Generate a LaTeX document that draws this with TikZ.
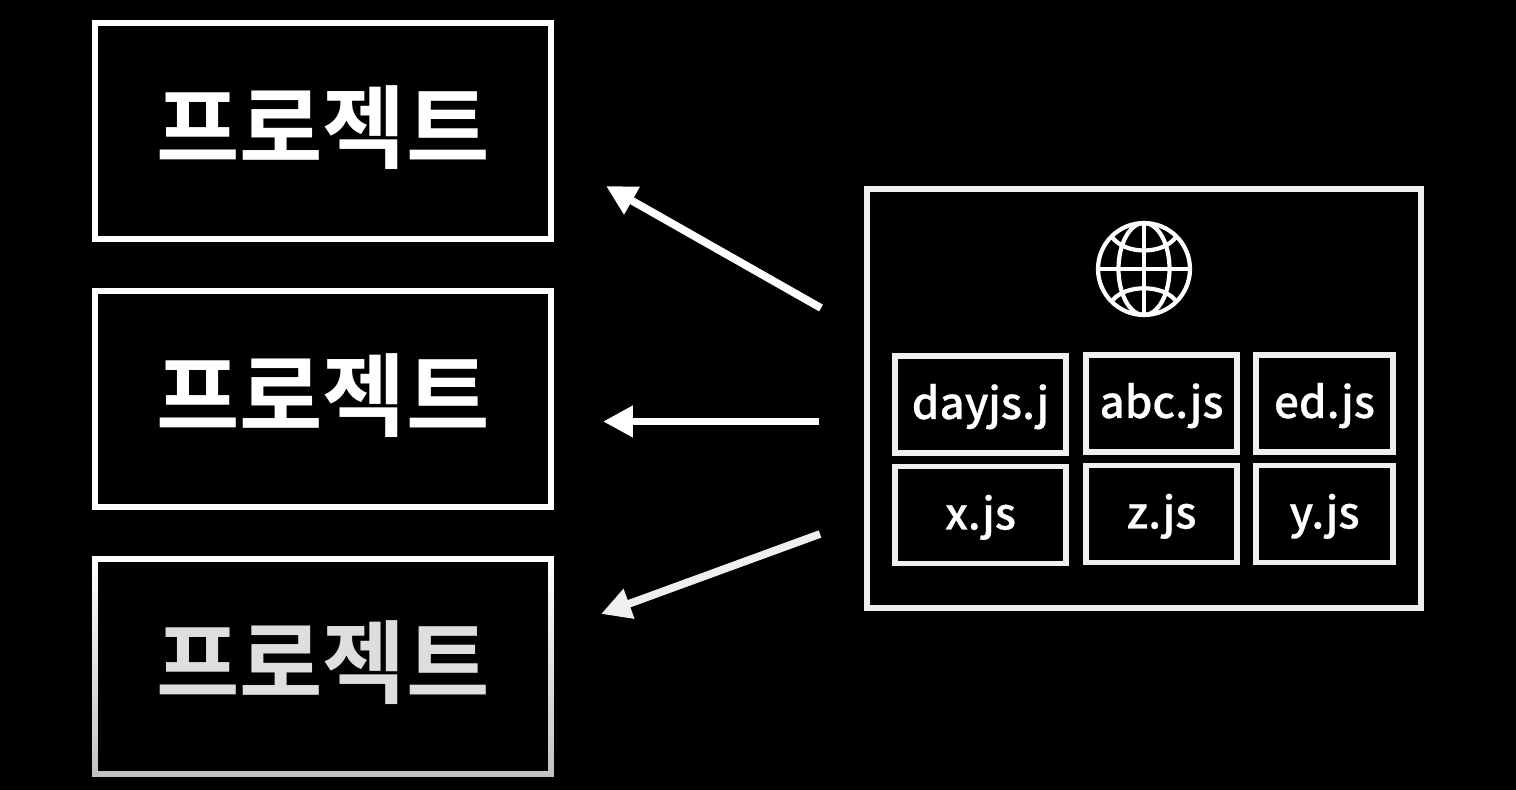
\documentclass[tikz,border=0pt]{standalone}
\usepackage{fontspec}
\setmainfont[FakeBold=0.5]{Noto Sans CJK KR Medium}
\newfontfamily\krbold{Noto Sans CJK KR Bold}
\definecolor{bg}{HTML}{000000}
\definecolor{line}{HTML}{FFFFFF}
\definecolor{linelt}{HTML}{EFEFEF}
\definecolor{txtlow}{HTML}{DEDEDE}
\usetikzlibrary{arrows.meta,positioning}

\begin{document}
\begin{tikzpicture}[x=0.02cm,y=-0.02cm,
    pj/.style={draw=line,line width=3.4pt,
      minimum width=9.12cm,minimum height=4.32cm,inner sep=0pt,
      text height=1.22cm,text depth=0pt,
      text=line,font=\krbold\fontsize{51.6}{52}\selectfont},
    pjlow/.style={pj,draw=none,top color=white,bottom color=black!24,
      minimum width=9.24cm,minimum height=4.42cm,text=txtlow,
      path picture={\fill[bg]([shift={(6,6)}]path picture bounding box.north west)
        rectangle ([shift={(-6,-6)}]path picture bounding box.south east);}},
    lib/.style={draw=linelt,line width=3.4pt,
      minimum width=11.08cm,minimum height=8.38cm},
    fa/.style={draw=linelt,line width=3.4pt,minimum height=1.94cm,inner sep=0pt,
      text height=.58cm,text depth=0pt,text=line,font=\fontsize{25}{30}\selectfont},
    gl/.style={draw=line,line width=2.4pt},
    ar/.style={-{Triangle[length=17pt,width=17pt]},line,line width=4.4pt},
  ]
    \fill[bg](0,0) rectangle (1516,790);
    \node[pj](p1) at (323,131) {프로젝트};
    \node[pj](p2) at (323,399) {프로젝트};
    \node[pjlow](p3) at (323,666.5) {프로젝트};
    \node[lib](mod) at (1144,398.5) {};
    \node[fa,minimum width=3.42cm](f1) at (980.5,404.5) {dayjs.j};
    \node[fa,minimum width=3.02cm](f2) at (1161.5,403.5) {abc.js};
    \node[fa,minimum width=2.74cm](f3) at (1324.5,403.5) {ed.js};
    \node[fa,minimum width=3.42cm](f4) at (980.5,515) {x.js};
    \node[fa,minimum width=3.02cm](f5) at (1161.5,514) {z.js};
    \node[fa,minimum width=2.74cm](f6) at (1324.5,514) {y.js};
    \node[gl,circle,minimum size=1.84cm,inner sep=0pt](globe) at (1144,269) {};
    \draw[gl](globe.center) ellipse (25.5 and 46);
    \draw[gl](globe.north)--(globe.south);
    \draw[gl](globe.west)--(globe.east);
    \draw[gl](1112,237) .. controls (1125,255) and (1163,255) .. (1176,237);
    \draw[gl](1112,301) .. controls (1125,284) and (1163,284) .. (1176,301);
    \coordinate(a1) at (821,308);
    \coordinate(h1) at (606,186);
    \coordinate(a2) at (819,421.5);
    \coordinate(h2) at (603,421.5);
    \coordinate(a3) at (820,534);
    \coordinate(h3) at (601,614);
    \draw[ar](a1)--(h1);\draw[ar](a2)--(h2);
    \draw[ar,draw=linelt,fill=linelt](a3)--(h3);
  \end{tikzpicture}
\end{document}
